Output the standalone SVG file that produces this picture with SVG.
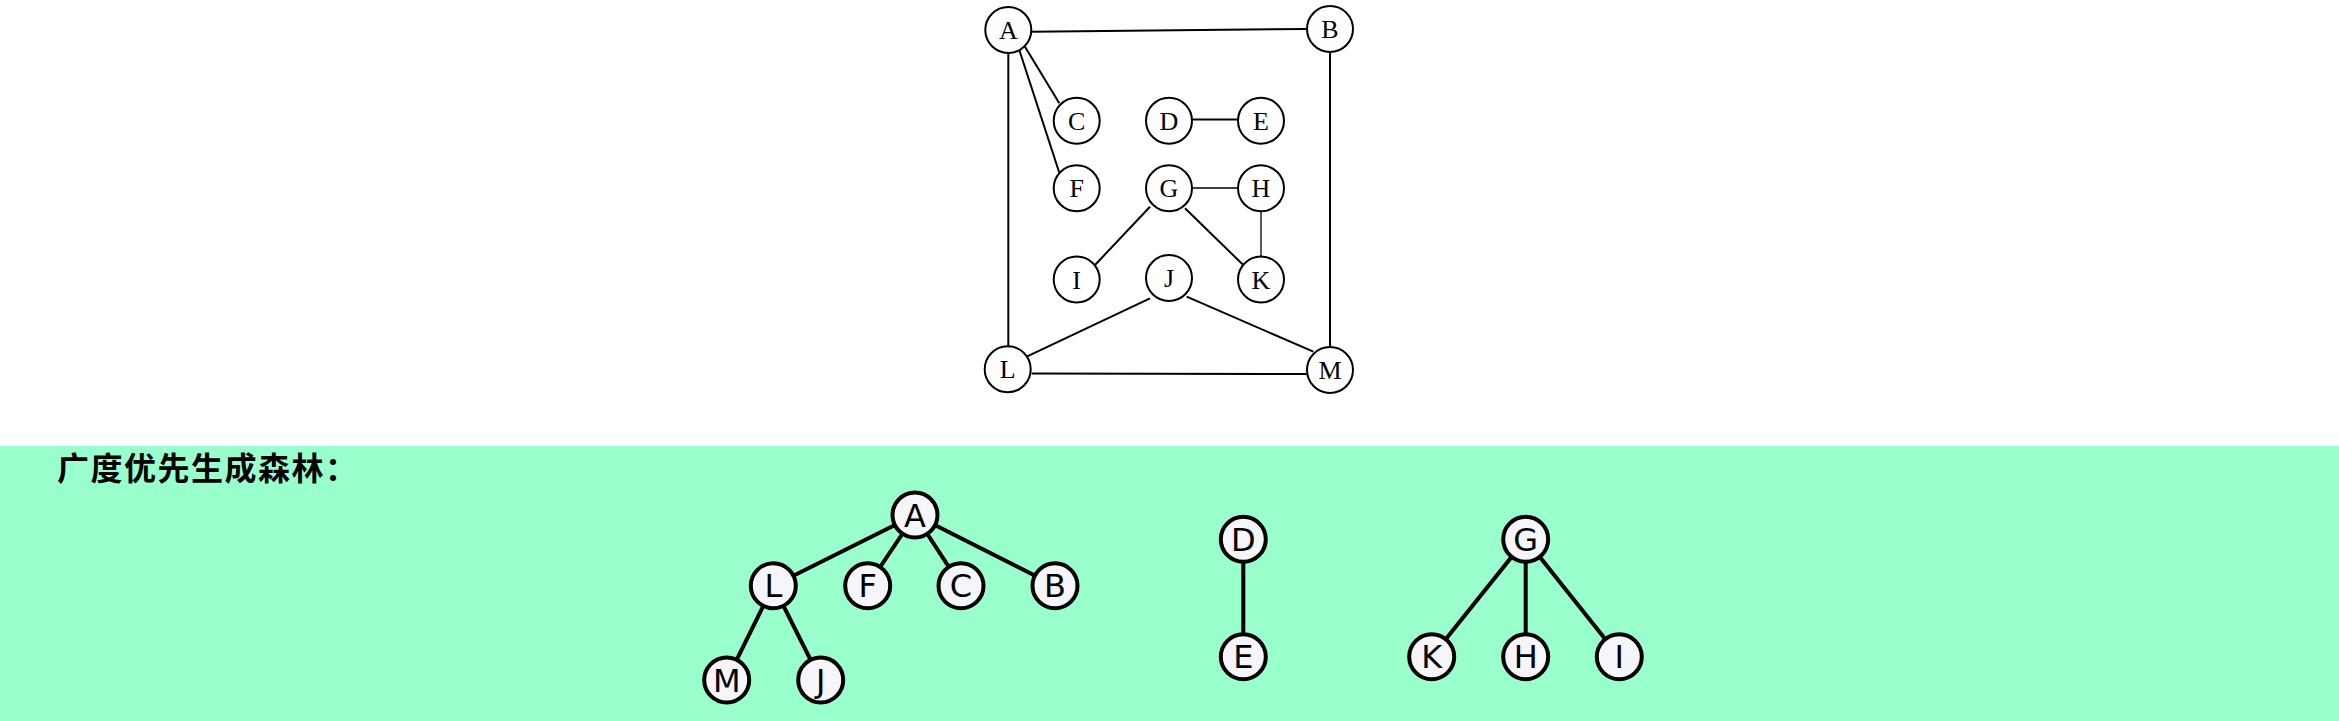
<svg xmlns="http://www.w3.org/2000/svg" width="2339" height="721" viewBox="0 0 2339 721">
<style>
.g1 circle{fill:#fff;stroke:#000;stroke-width:2}
.g1 text{font-family:"Liberation Serif",serif;font-size:26px;fill:#000;text-anchor:middle}
.e1 line{stroke:#000;stroke-width:2}
.e1 line.thin{stroke-width:1.3}
.t circle{fill:#f5f5fa;stroke:#000;stroke-width:4}
.t text{font-family:"DejaVu Sans","Liberation Sans",sans-serif;font-size:32px;fill:#000;text-anchor:middle}
.e2 line{stroke:#000;stroke-width:4}
.title{font-family:"Liberation Sans","Noto Sans CJK SC",sans-serif;font-size:32px;font-weight:bold;fill:#000;letter-spacing:1.5px}
</style>
<rect x="0" y="0" width="2339" height="721" fill="#fff"/>
<rect x="0" y="446" width="2339" height="275" fill="#99ffcc"/>
<g id="connectors-top" class="e1">
<line x1="1031.7" y1="31.7" x2="1306.7" y2="29"/>
<line x1="1025" y1="46.7" x2="1059.3" y2="103.3"/>
<line x1="1019.3" y1="50" x2="1059.3" y2="172.7"/>
<line x1="1008.3" y1="51" x2="1008.3" y2="348"/>
<line x1="1330" y1="53" x2="1330" y2="350"/>
<line x1="1191.7" y1="119.5" x2="1238.3" y2="119.5"/>
<line class="thin" x1="1192" y1="188" x2="1238" y2="188"/>
<line x1="1150" y1="206.7" x2="1095" y2="265"/>
<line x1="1185" y1="208.3" x2="1243.3" y2="265"/>
<line class="thin" x1="1261" y1="211" x2="1261" y2="257"/>
<line x1="1150" y1="298.3" x2="1026.7" y2="356.7"/>
<line x1="1186.7" y1="296.7" x2="1313.3" y2="351.7"/>
<line x1="1031.7" y1="373.5" x2="1306.7" y2="374"/>
</g>
<g class="g1">
<g id="nA"><circle cx="1008.3" cy="30" r="23"/><text x="1008.3" y="39">A</text></g>
<g id="nB"><circle cx="1330" cy="29" r="23"/><text x="1330" y="38">B</text></g>
<g id="nC"><circle cx="1076.7" cy="120.7" r="23"/><text x="1076.7" y="129.7">C</text></g>
<g id="nD"><circle cx="1169" cy="120.7" r="23"/><text x="1169" y="129.7">D</text></g>
<g id="nE"><circle cx="1261" cy="120.7" r="23"/><text x="1261" y="129.7">E</text></g>
<g id="nF"><circle cx="1076.7" cy="188.3" r="23"/><text x="1076.7" y="197.3">F</text></g>
<g id="nG"><circle cx="1169" cy="188.3" r="23"/><text x="1169" y="197.3">G</text></g>
<g id="nH"><circle cx="1261" cy="188.3" r="23"/><text x="1261" y="197.3">H</text></g>
<g id="nI"><circle cx="1076.7" cy="279.5" r="23"/><text x="1076.7" y="288.5">I</text></g>
<g id="nJ"><circle cx="1169" cy="278" r="23"/><text x="1169" y="287">J</text></g>
<g id="nK"><circle cx="1261" cy="279.5" r="23"/><text x="1261" y="288.5">K</text></g>
<g id="nL"><circle cx="1007.7" cy="369.3" r="23"/><text x="1007.7" y="378.3">L</text></g>
<g id="nM"><circle cx="1330" cy="370" r="23"/><text x="1330" y="379">M</text></g>
</g>
<text id="title" class="title" x="57" y="480">广度优先生成森林：</text>
<g id="connectors-forest" class="e2">
<line x1="915" y1="515" x2="773.3" y2="585.7"/>
<line x1="915" y1="515" x2="867.7" y2="585.7"/>
<line x1="915" y1="515" x2="961" y2="585.7"/>
<line x1="915" y1="515" x2="1055" y2="585.7"/>
<line x1="773.3" y1="585.7" x2="726.7" y2="680"/>
<line x1="773.3" y1="585.7" x2="820.7" y2="680"/>
<line x1="1243.3" y1="539.3" x2="1243.3" y2="656.7"/>
<line x1="1525.7" y1="539.3" x2="1431.7" y2="656.7"/>
<line x1="1525.7" y1="539.3" x2="1525.7" y2="656.7"/>
<line x1="1525.7" y1="539.3" x2="1619.3" y2="656.7"/>
</g>
<g class="t">
<g id="tA"><circle cx="915" cy="515" r="22.5"/><text x="915" y="526.5">A</text></g>
<g id="tL"><circle cx="773.3" cy="585.7" r="22.5"/><text x="773.3" y="597.2">L</text></g>
<g id="tF"><circle cx="867.7" cy="585.7" r="22.5"/><text x="867.7" y="597.2">F</text></g>
<g id="tC"><circle cx="961" cy="585.7" r="22.5"/><text x="961" y="597.2">C</text></g>
<g id="tB"><circle cx="1055" cy="585.7" r="22.5"/><text x="1055" y="597.2">B</text></g>
<g id="tM"><circle cx="726.7" cy="680" r="22.5"/><text x="726.7" y="691.5">M</text></g>
<g id="tJ"><circle cx="820.7" cy="680" r="22.5"/><text x="820.7" y="691.5">J</text></g>
<g id="tD"><circle cx="1243.3" cy="539.3" r="22.5"/><text x="1243.3" y="550.8">D</text></g>
<g id="tE"><circle cx="1243.3" cy="656.7" r="22.5"/><text x="1243.3" y="668.2">E</text></g>
<g id="tG"><circle cx="1525.7" cy="539.3" r="22.5"/><text x="1525.7" y="550.8">G</text></g>
<g id="tK"><circle cx="1431.7" cy="656.7" r="22.5"/><text x="1431.7" y="668.2">K</text></g>
<g id="tH"><circle cx="1525.7" cy="656.7" r="22.5"/><text x="1525.7" y="668.2">H</text></g>
<g id="tI"><circle cx="1619.3" cy="656.7" r="22.5"/><text x="1619.3" y="668.2">I</text></g>
</g>
</svg>
